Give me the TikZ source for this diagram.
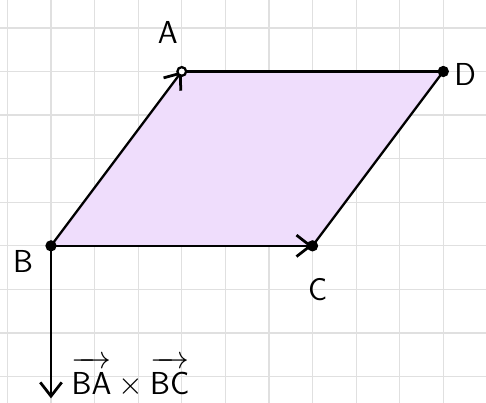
\documentclass[tikz,border=0pt]{standalone}
\usepackage{amsmath,amssymb}
\usepackage{xcolor}
\usetikzlibrary{arrows.meta,positioning}

\definecolor{paperline}{RGB}{224,224,224}
\definecolor{lilac}{RGB}{239,221,252}

\newcommand{\vecarrow}[1]{\overrightarrow{\mathsf{#1}\rule{0pt}{0.82em}}}

\begin{document}
\begin{tikzpicture}[
    every node/.style={font=\huge\sffamily},
    gridline/.style={paperline, line width=0.8pt},
    areafill/.style={fill=lilac},
    edge/.style={black, line width=1.5pt},
    vec/.style={edge, -{Straight Barb[length=9pt,width=14pt,line width=1.8pt]}},
    dotpt/.style={fill=black},
    opendot/.style={draw=black, fill=white, line width=1.5pt},
]

% ── frame + grid paper ──────────────────────────────────────
\useasboundingbox (-1.17,-3.60) rectangle (9.98,5.64);
\fill[white] (-1.17,-3.60) rectangle (9.98,5.64);
\draw[gridline] (-1.17,-3.60) grid (9.98,5.64);

% ── vertices ────────────────────────────────────────────────
\coordinate (B) at (0,0);
\coordinate (A) at (3,4);
\coordinate (D) at (9,4);
\coordinate (C) at (6,0);
\coordinate (N) at (0,-3.5);   % normal direction

% ════ PARALLELOGRAM ══════════════════════════════════════════
\fill[areafill] (B) -- (A) -- (D) -- (C) -- cycle;

\draw[edge] (A) -- (D);
\draw[edge] (D) -- (C);
\draw[vec] (B) -- (A);
\draw[vec] (B) -- (C);
\draw[vec] (B) -- (N);

% ── points ──────────────────────────────────────────────────
\fill[dotpt] (B) circle (0.13);
\fill[dotpt] (C) circle (0.13);
\fill[dotpt] (D) circle (0.13);
\draw[opendot] (A) circle (0.1);

% ════ LABELS ═════════════════════════════════════════════════
\node (labA) at (2.68,4.89) {A};
\node (labD) at (9.5,3.92) {D};
\node (labB) at (-0.64,-0.37) {B};
\node (labC) at (6.12,-1.01) {C};
\node[right=0.35 of N, yshift=14pt] (labN)
    {$\vecarrow{BA}\times\vecarrow{BC}$};

\end{tikzpicture}
\end{document}
